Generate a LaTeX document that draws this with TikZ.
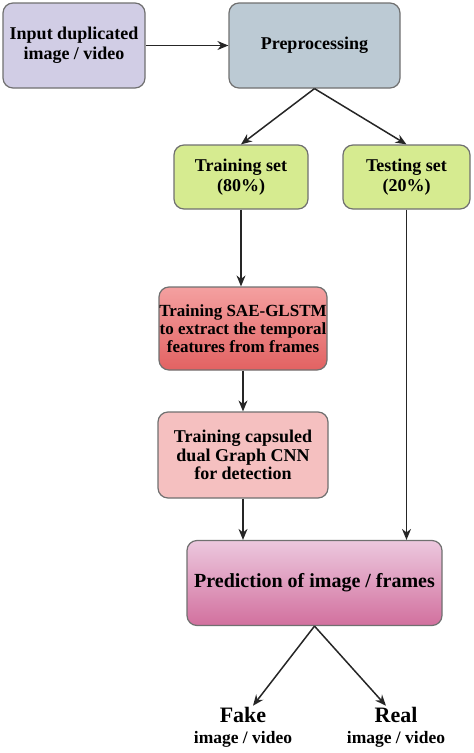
\documentclass[tikz,border=0pt]{standalone}
\usepackage{fontspec}
\setmainfont{Liberation Serif}
\usepackage{xcolor}
\usetikzlibrary{arrows.meta, positioning, calc}

\definecolor{inputfill}{RGB}{209,205,229}
\definecolor{prepfill}{RGB}{188,202,212}
\definecolor{setfill}{RGB}{214,235,144}
\definecolor{saetop}{RGB}{244,160,160}
\definecolor{saebot}{RGB}{226,98,98}
\definecolor{capsfill}{RGB}{245,192,192}
\definecolor{predtop}{RGB}{236,200,222}
\definecolor{predbot}{RGB}{210,112,158}
\definecolor{edgegray}{RGB}{112,112,112}

\begin{document}
\begin{tikzpicture}[
    x=1pt, y=-1pt,
    block/.style={draw=edgegray, line width=1.2pt, rounded corners=10pt, inner sep=0pt, align=center, font=\bfseries\fontsize{18}{20}\selectfont},
    arr/.style={-{Stealth[length=11pt, width=9pt]}, line width=1.5pt, black!85},
]
\useasboundingbox (0,0) rectangle (474,753);

\node[block, fill=inputfill, minimum width=142pt, minimum height=85pt] (input) at (74,45.5) {Input duplicated\\image / video};
\node[block, fill=prepfill, minimum width=171pt, minimum height=85pt] (prep) at (314.5,45.5) {Preprocessing};
\node[block, fill=setfill, minimum width=134pt, minimum height=64pt] (train) at (241,177) {Training set\\(80\%)};
\node[block, fill=setfill, minimum width=127pt, minimum height=64pt] (test) at (406.5,177) {Testing set\\(20\%)};
\node[block, top color=saetop, bottom color=saebot, minimum width=168pt, minimum height=83pt, font=\bfseries\fontsize{17}{18}\selectfont] (sae) at (243,328.5) {Training SAE-GLSTM\\to extract the temporal\\features from frames};
\node[block, fill=capsfill, minimum width=170pt, minimum height=86pt, font=\bfseries\fontsize{18}{18.5}\selectfont] (caps) at (243,455) {Training capsuled\\dual Graph CNN\\for detection};
\node[block, top color=predtop, bottom color=predbot, minimum width=255pt, minimum height=85pt, font=\bfseries\fontsize{20}{22}\selectfont] (pred) at (314.5,583) {Prediction of image / frames};

\node[align=center, inner sep=0pt, font=\bfseries\fontsize{22}{22}\selectfont] (fake) at (243,727) {Fake\\[-1pt]{\fontsize{17.5}{18}\selectfont image / video}};
\node[align=center, inner sep=0pt, font=\bfseries\fontsize{22}{22}\selectfont] (real) at (396,727) {Real\\[-1pt]{\fontsize{17.5}{18}\selectfont image / video}};

\draw[arr] (input) -- (prep);
\draw[arr] (prep.south) -- (train.north);
\draw[arr] (prep.south) -- (test.north);
\draw[arr] (train.south) -- (train.south |- sae.north);
\draw[arr] (sae) -- (caps);
\draw[arr] (caps) -- (pred.north -| caps);
\draw[arr] (test.south) -- (test.south |- pred.north);
\draw[arr] (pred.south) -- ([xshift=10pt, yshift=1pt]fake.north);
\draw[arr] (pred.south) -- ([xshift=-10pt, yshift=1pt]real.north);

\end{tikzpicture}
\end{document}
